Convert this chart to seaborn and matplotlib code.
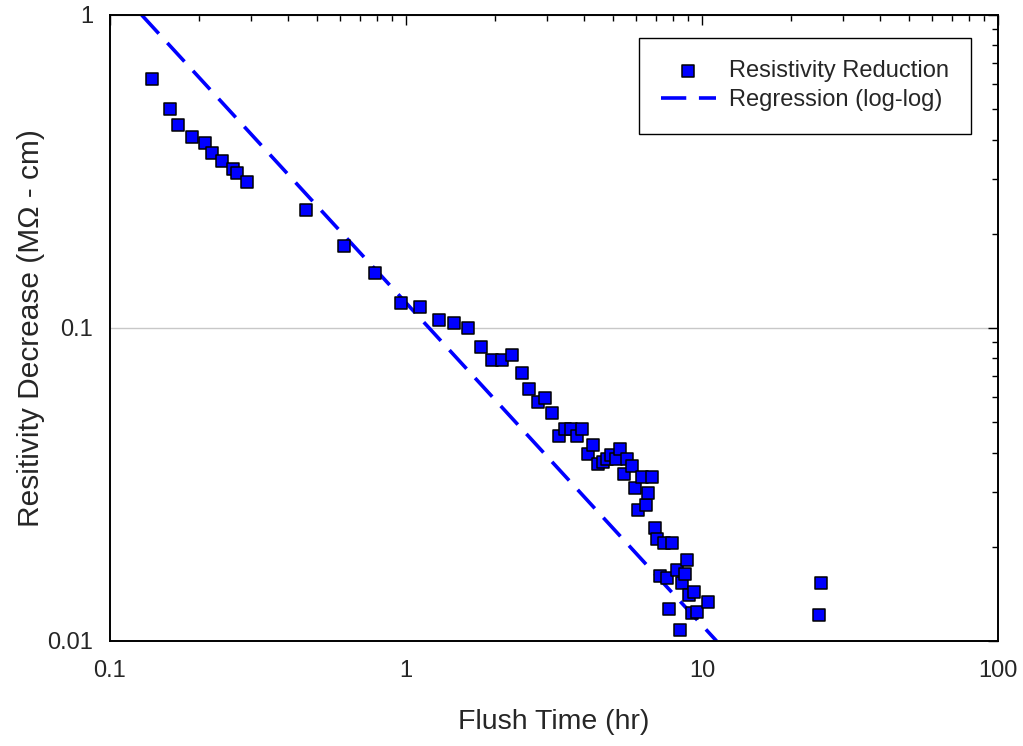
import numpy as np
import pandas as pd
import seaborn as sns
import matplotlib
matplotlib.use("Agg")
import matplotlib.pyplot as plt
from matplotlib.ticker import LogLocator, NullFormatter

# flush time (hr) and resistivity decrease (MOhm-cm)
flush_time = [0.139, 0.160, 0.170, 0.190, 0.210, 0.221, 0.239, 0.260, 0.269, 0.290,
              0.459, 0.619, 0.786, 0.96, 1.115, 1.29, 1.456, 1.616, 1.787, 1.957,
              2.115, 2.286, 2.46, 2.61, 2.79, 2.955, 3.11, 3.28, 3.45, 3.60,
              3.78, 3.94, 4.11, 4.27, 4.44, 4.62, 4.76, 4.93, 5.11, 5.27,
              5.45, 5.59, 5.79, 5.94, 6.09, 6.27, 6.45, 6.59, 6.78, 6.92,
              7.06, 7.21, 7.42, 7.60, 7.75, 7.94, 8.25, 8.43, 8.58, 8.76,
              8.92, 9.06, 9.25, 9.40, 9.60, 10.45, 24.8, 25.3]
resistivity = [0.624, 0.500, 0.445, 0.408, 0.389, 0.363, 0.342, 0.322, 0.313, 0.293,
               0.239, 0.183, 0.150, 0.120, 0.117, 0.106, 0.1035, 0.0998, 0.0868, 0.0790,
               0.0790, 0.0822, 0.0720, 0.0637, 0.0579, 0.0596, 0.0536, 0.0452, 0.0475, 0.0475,
               0.0452, 0.0475, 0.0395, 0.0424, 0.0367, 0.0374, 0.0382, 0.0393, 0.0382, 0.0411,
               0.0342, 0.0382, 0.0362, 0.0307, 0.0262, 0.0334, 0.0271, 0.0296, 0.0334, 0.0230,
               0.0212, 0.0161, 0.0205, 0.0159, 0.01262, 0.0206, 0.0169, 0.01084, 0.0153, 0.0164,
               0.0182, 0.0140, 0.01226, 0.01434, 0.01235, 0.01329, 0.0121, 0.0153]

# regression line (log-log), where it enters and leaves the plot area
reg_x = [0.128, 11.2]
reg_y = [1.0, 0.01]

x_ticks = [0.1, 1, 10, 100]
x_labels = ["0.1", "1", "10", "100"]
y_ticks = [0.01, 0.1, 1]
y_labels = ["0.01", "0.1", "1"]

df = pd.DataFrame({"t": flush_time, "r": resistivity})
reg = pd.DataFrame({"t": reg_x, "r": reg_y})

sns.set_style("white")
plt.rcParams["font.family"] = ["Liberation Sans", "DejaVu Sans"]
plt.rcParams["font.size"] = 17

fig = plt.figure(figsize=(10.23, 7.46), dpi=100)
ax = fig.add_axes([0.1075, 0.1408, 0.868, 0.8391])

sns.lineplot(data=reg, x="t", y="r", ax=ax, color="#0000ff", linewidth=2.6,
             linestyle=(0, (7, 3.5)), label="Regression (log-log)", zorder=2)
sns.scatterplot(data=df, x="t", y="r", ax=ax, marker="s", s=78, color="#0000ff",
                edgecolor="black", linewidth=1.1, label="Resistivity Reduction", zorder=3)

ax.set_xscale("log")
ax.set_yscale("log")
ax.set_xlim(0.1, 100)
ax.set_ylim(0.01, 1)
ax.set_xticks(x_ticks, x_labels)
ax.set_yticks(y_ticks, y_labels)
ax.xaxis.set_minor_locator(LogLocator(base=10, subs=np.arange(2, 10)))
ax.yaxis.set_minor_locator(LogLocator(base=10, subs=np.arange(2, 10)))
ax.xaxis.set_minor_formatter(NullFormatter())
ax.yaxis.set_minor_formatter(NullFormatter())

ax.tick_params(which="both", direction="in", top=True, right=True, width=1.0, color="black")
ax.tick_params(which="major", length=7, labelsize=17)
ax.tick_params(axis="x", which="major", pad=13.5)
ax.tick_params(axis="y", which="major", pad=12)
ax.tick_params(which="minor", length=4)
ax.grid(axis="y", which="major", color="#c8c8c8", linewidth=1.0)
ax.grid(axis="x", visible=False)
for sp in ax.spines.values():
    sp.set_color("black")
    sp.set_linewidth(1.4)

ax.set_xlabel("Flush Time (hr)", fontsize=20.5, labelpad=20)
ax.set_ylabel("Resitivity Decrease (M\u03a9 - cm)", fontsize=21.5, labelpad=2)

handles, labels = ax.get_legend_handles_labels()
order = [labels.index("Resistivity Reduction"), labels.index("Regression (log-log)")]
leg = ax.legend([handles[i] for i in order], [labels[i] for i in order],
                loc="upper right", bbox_to_anchor=(0.9696, 0.9633), borderaxespad=0,
                fancybox=False, framealpha=1, edgecolor="black", fontsize=17,
                borderpad=0.95, labelspacing=0.3, handlelength=2.3, handletextpad=0.55)
leg.get_frame().set_linewidth(1.0)

fig.savefig("out.png", dpi=100)
